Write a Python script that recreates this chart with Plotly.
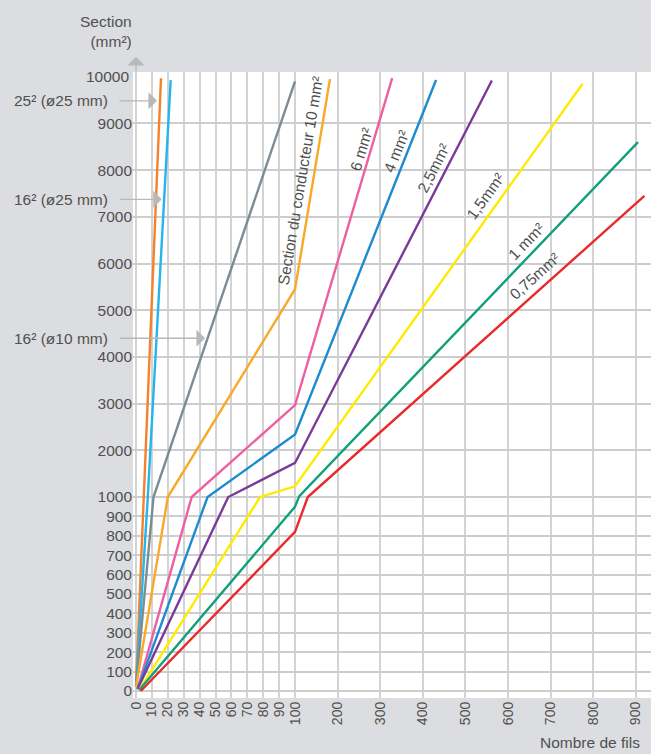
import plotly.graph_objects as go

# ---------------- data ----------------
# number of wires (x) vs conductor section in mm² (y)
fils_25_25 = [0, 4.9, 15.7]
sect_25_25 = [30, 1000, 9970]
fils_16_25 = [0, 7.4, 21.8]
sect_16_25 = [20, 1000, 9930]
fils_16_10 = [0, 11, 100]
sect_16_10 = [20, 1000, 9900]
fils_10 = [0, 20, 100, 182]
sect_10 = [20, 1000, 5450, 9950]
fils_6 = [1, 35, 100, 328]
sect_6 = [10, 1000, 2970, 9970]
fils_4 = [1, 45, 100, 431]
sect_4 = [10, 1000, 2340, 9930]
fils_2_5 = [1, 58, 100, 562]
sect_2_5 = [10, 1000, 1730, 9920]
fils_1_5 = [2, 78, 100, 775]
sect_1_5 = [5, 1000, 1230, 9850]
fils_1 = [2, 100, 110, 905]
sect_1 = [5, 950, 1020, 8600]
fils_0_75 = [3, 100, 130, 920]
sect_0_75 = [0, 820, 1000, 7450]

x_ticks = [0, 10, 20, 30, 40, 50, 60, 70, 80, 90, 100, 200, 300, 400, 500, 600, 700, 800, 900]
y_ticks = [0, 100, 200, 300, 400, 500, 600, 700, 800, 900, 1000,
           2000, 3000, 4000, 5000, 6000, 7000, 8000, 9000]
y_top_tick = 10000

line_labels = ["Section du conducteur 10 mm²", "6 mm²", "4 mm²", "2,5mm²", "1,5mm²", "1 mm²", "0,75mm²"]
label_fils = [111.7, 255, 337, 424, 546, 642, 661]
label_sect = [7766, 8452, 8409, 8045, 7445, 6482, 5732]
label_angles = [-80.5, -73, -68, -63, -54, -46, -42]

arrow_texts = ["25² (ø25 mm)", "16² (ø25 mm)", "16² (ø10 mm)"]
arrow_fils = [13.2, 16.2, 43.4]
arrow_sect = [9486, 7375, 4400]
arrow_len_px = [39, 43.4, 86.7]

# ---------------- piecewise axis scaling ----------------
X_BREAK, X_HI = 100, 0.268
Y_BREAK, Y_HI = 1000, 0.2407


def tx(v):
    return v if v <= X_BREAK else X_BREAK + (v - X_BREAK) * X_HI


def ty(v):
    return v if v <= Y_BREAK else Y_BREAK + (v - Y_BREAK) * Y_HI


series = [
    (fils_25_25, sect_25_25, "#F5822A"),
    (fils_16_25, sect_16_25, "#25B5EA"),
    (fils_16_10, sect_16_10, "#7D8B93"),
    (fils_10, sect_10, "#F9A82A"),
    (fils_6, sect_6, "#EE5FA2"),
    (fils_4, sect_4, "#1B8CD2"),
    (fils_2_5, sect_2_5, "#7B3A98"),
    (fils_1_5, sect_1_5, "#FFEB00"),
    (fils_1, sect_1, "#12A07A"),
    (fils_0_75, sect_0_75, "#E92A2C"),
]

FONT = "Liberation Sans, Arial, sans-serif"
TXT = "#505050"

fig = go.Figure()
for xs, ys, col in series:
    fig.add_trace(go.Scatter(
        x=[tx(v) for v in xs], y=[ty(v) for v in ys],
        mode="lines", line=dict(color=col, width=2.4),
        showlegend=False, hoverinfo="skip"))

annotations = []
for t, fx, sy, ang in zip(line_labels, label_fils, label_sect, label_angles):
    annotations.append(dict(x=tx(fx), y=ty(sy), xref="x", yref="y", text=t,
                            textangle=ang, showarrow=False,
                            font=dict(family=FONT, size=15.5, color=TXT)))

PL, PW, PT, PH = 133, 518, 72, 626
for t, fx, sy, ln in zip(arrow_texts, arrow_fils, arrow_sect, arrow_len_px):
    annotations.append(dict(x=tx(fx), y=ty(sy), xref="x", yref="y", text="",
                            showarrow=True, ax=-ln, ay=0, arrowhead=1,
                            arrowsize=2.2, arrowwidth=1.3, arrowcolor="#b8b8b8"))
    annotations.append(dict(x=(109.5 - PL) / PW, y=ty(sy), xref="paper", yref="y",
                            text=t, xanchor="right", showarrow=False,
                            font=dict(family=FONT, size=15.5, color=TXT)))

# top tick label 10000 (no grid line there)
annotations.append(dict(x=(130.5 - PL) / PW, y=ty(y_top_tick), xref="paper", yref="y",
                        text=str(y_top_tick), xanchor="right", showarrow=False,
                        font=dict(family=FONT, size=15.5, color=TXT)))
# axis titles
annotations.append(dict(x=(134 - PL) / PW, y=1 + (72 - 31) / PH, xref="paper", yref="paper",
                        text="Section<br>(mm²)", align="right", xanchor="right",
                        yanchor="middle", showarrow=False,
                        font=dict(family=FONT, size=15.5, color=TXT)))
annotations.append(dict(x=(642 - PL) / PW, y=(698 - 742) / PH, xref="paper", yref="paper",
                        text="Nombre de fils", xanchor="right", yanchor="middle",
                        showarrow=False, font=dict(family=FONT, size=15.5, color=TXT)))
# y axis arrow
annotations.append(dict(x=tx(0), y=1 + 15 / PH, xref="x", yref="paper", text="",
                        showarrow=True, ax=0, ay=16, arrowhead=1, arrowsize=2.2,
                        arrowwidth=1.3, arrowcolor="#b8b8b8"))

fig.update_layout(
    width=651, height=754,
    margin=dict(l=PL, r=651 - PL - PW, t=PT, b=754 - PT - PH),
    paper_bgcolor="#dcdde0", plot_bgcolor="#ffffff",
    annotations=annotations,
    xaxis=dict(range=[-1.9, 323.9], tickvals=[tx(v) for v in x_ticks],
               ticktext=[str(v) for v in x_ticks], tickangle=-90,
               showgrid=True, gridcolor="#d3d3d3", gridwidth=1.5,
               zeroline=False, showline=False, ticks="",
               tickfont=dict(family=FONT, size=14, color=TXT)),
    yaxis=dict(range=[-36, 3191], tickvals=[ty(v) for v in y_ticks],
               ticktext=[str(v) for v in y_ticks],
               showgrid=True, gridcolor="#cdcdcd", gridwidth=1.5,
               zeroline=False, showline=False, ticks="",
               tickfont=dict(family=FONT, size=15.5, color=TXT)),
)

fig.write_html("out.html", config={"displayModeBar": False},
               post_script="document.body.style.margin='0';"
                           "document.body.style.overflow='hidden';")
